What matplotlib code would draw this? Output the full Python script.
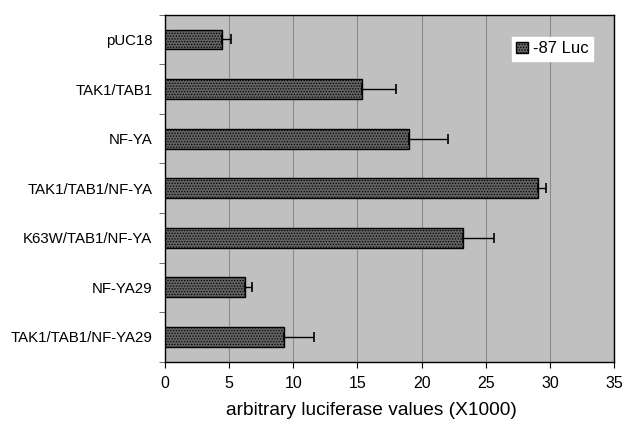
import numpy as np
import matplotlib.pyplot as plt
import matplotlib as mpl

plt.rcParams['font.family'] = ['Liberation Sans', 'DejaVu Sans']
mpl.rcParams['hatch.color'] = '#a8a8a8'
mpl.rcParams['hatch.linewidth'] = 0.6

labels = ["pUC18", "TAK1/TAB1", "NF-YA", "TAK1/TAB1/NF-YA",
          "K63W/TAB1/NF-YA", "NF-YA29", "TAK1/TAB1/NF-YA29"]
values = [4.45, 15.35, 19.0, 29.05, 23.25, 6.25, 9.3]
errors = [0.7, 2.65, 3.05, 0.65, 2.4, 0.5, 2.35]

fig = plt.figure(figsize=(6.24, 4.26), dpi=100)
ax = fig.add_axes([0.2644, 0.151, 0.7196, 0.8145])
ax.set_facecolor('#c0c0c0')

y = np.arange(len(labels))
ax.barh(y, values, height=0.4, color='#626262', edgecolor='black',
        linewidth=1.0, hatch='......', label='-87 Luc', zorder=3)
ax.errorbar(values, y, xerr=[np.zeros(len(errors)), errors], fmt='none',
            ecolor='black', elinewidth=1.0, capsize=3.5, capthick=1.2, zorder=4)

ax.set_xlim(0, 35)
ax.set_ylim(len(labels) - 0.5, -0.5)
ax.set_xticks(range(0, 36, 5))
ax.set_yticks(y)
ax.set_yticklabels(labels, fontsize=10.8)
ax.set_yticks(np.arange(-0.5, len(labels), 1), minor=True)
ax.tick_params(axis='y', which='major', length=0, pad=9)
ax.tick_params(axis='y', which='minor', length=4, direction='out', color='#555555')
ax.tick_params(axis='x', length=4, direction='out', labelsize=11.5, pad=6)
ax.grid(axis='x', color='#8a8a8a', linewidth=0.8, zorder=0)
ax.set_axisbelow(True)
for s in ax.spines.values():
    s.set_linewidth(1.0)
ax.set_xlabel("arbitrary luciferase values (X1000)", fontsize=13.8)
ax.xaxis.set_label_coords(0.459, -0.117)
ax.xaxis.label.set_va('top')

leg = ax.legend(loc='upper right', bbox_to_anchor=(0.953, 0.935), fontsize=12,
                frameon=True, fancybox=False, framealpha=1, edgecolor='white',
                handlelength=0.7, handleheight=0.7, handletextpad=0.3,
                borderpad=0.25, borderaxespad=0)

fig.savefig('out.png', dpi=100)
